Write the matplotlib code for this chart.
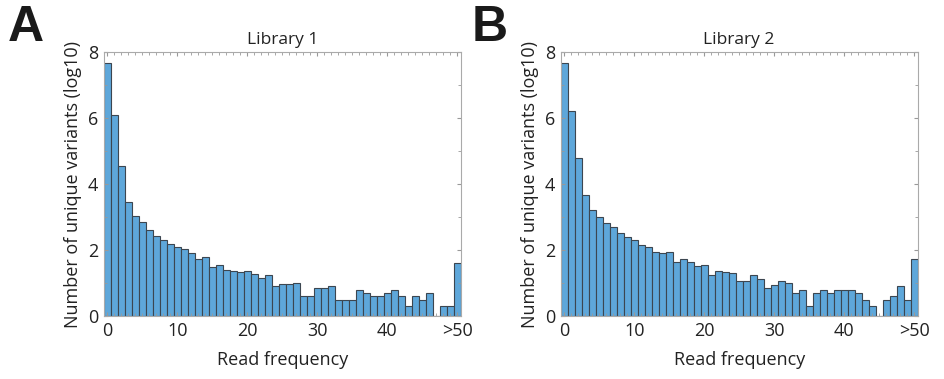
import numpy as np
import matplotlib.pyplot as plt
from matplotlib.ticker import MultipleLocator

plt.rcParams['font.family'] = ['Open Sans', 'DejaVu Sans']
plt.rcParams['text.color'] = '#222222'
plt.rcParams['axes.labelcolor'] = '#222222'

# read frequency bins 0..49 and ">50"
bins = np.arange(51)
tick_pos = [0, 10, 20, 30, 40, 50]
tick_labels = ['0', '10', '20', '30', '40', '>50']

# log10 number of unique variants
lib1 = [7.66, 6.08, 4.55, 3.44, 3.04, 2.84, 2.60, 2.44, 2.29, 2.18,
        2.08, 2.02, 1.90, 1.73, 1.78, 1.50, 1.54, 1.41, 1.37, 1.35,
        1.37, 1.27, 1.15, 1.23, 0.90, 0.96, 0.96, 1.00, 0.61, 0.61,
        0.85, 0.85, 0.91, 0.48, 0.48, 0.48, 0.79, 0.71, 0.61, 0.61,
        0.71, 0.79, 0.61, 0.30, 0.61, 0.48, 0.71, 0.00, 0.30, 0.30,
        1.61]
lib2 = [7.65, 6.21, 4.79, 3.68, 3.22, 3.01, 2.81, 2.71, 2.53, 2.38,
        2.31, 2.16, 2.10, 1.93, 1.91, 1.93, 1.65, 1.72, 1.65, 1.53,
        1.55, 1.24, 1.37, 1.34, 1.30, 1.07, 1.05, 1.24, 1.11, 0.85,
        0.95, 1.05, 0.99, 0.70, 0.78, 0.30, 0.70, 0.78, 0.70, 0.78,
        0.78, 0.78, 0.70, 0.48, 0.30, 0.00, 0.48, 0.60, 0.90, 0.48,
        1.74]

fig = plt.figure(figsize=(9.44, 3.79), dpi=100)
ax1 = fig.add_axes([0.110, 0.166, 0.378, 0.697])
ax2 = fig.add_axes([0.594, 0.166, 0.378, 0.697])

for ax, y, title in [(ax1, lib1, 'Library 1'), (ax2, lib2, 'Library 2')]:
    ax.bar(bins, y, width=1.0, color='#5ea7da', edgecolor='#3c4650', linewidth=0.8)
    ax.set_xlim(-0.5, 50.5)
    ax.set_ylim(0, 8)
    ax.set_xticks(tick_pos)
    ax.set_xticklabels(tick_labels)
    ax.set_yticks([0, 2, 4, 6, 8])
    ax.xaxis.set_minor_locator(MultipleLocator(1))
    ax.yaxis.set_minor_locator(MultipleLocator(1))
    ax.tick_params(which='both', direction='in', top=True, right=True,
                   color='#999999', labelcolor='#222222', labelsize=13, pad=4)
    ax.tick_params(which='major', length=3)
    ax.tick_params(which='minor', length=2.5)
    for s in ax.spines.values():
        s.set_color('#aaaaaa')
        s.set_linewidth(0.8)
    ax.set_title(title, fontsize=12.5, pad=6)
    ax.set_xlabel('Read frequency', fontsize=13, labelpad=8)
    ax.set_ylabel('Number of unique variants (log10)', fontsize=13, labelpad=4)

fig.text(0.008, 0.893, 'A', fontsize=36, fontweight='bold', family='Liberation Sans', color='#1a1a1a')
fig.text(0.500, 0.893, 'B', fontsize=36, fontweight='bold', family='Liberation Sans', color='#1a1a1a')

plt.savefig('out.png', dpi=100)
